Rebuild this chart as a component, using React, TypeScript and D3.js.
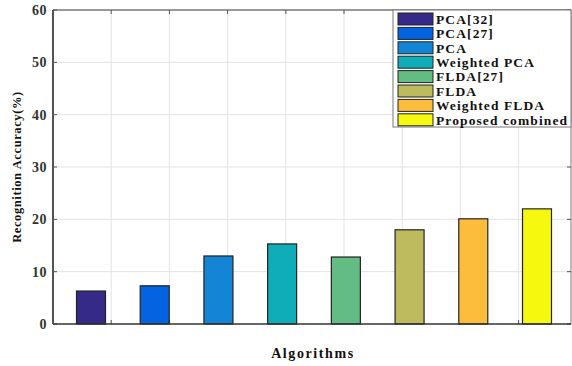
import React from "react";
import * as d3 from "d3";

const algorithms = ["PCA[32]", "PCA[27]", "PCA", "Weighted PCA", "FLDA[27]", "FLDA", "Weighted FLDA", "Proposed combined"];
const accuracy = [6.3, 7.3, 13.0, 15.3, 12.8, 18.0, 20.1, 22.0];
const barColors = ["#352a87", "#0363e1", "#1485d4", "#0fadb8", "#63bc84", "#bdbb5e", "#fdbd3c", "#f6f90d"];
const yTicks = [0, 10, 20, 30, 40, 50, 60];
const xGridTicks = [1, 2, 3, 4, 5, 6, 7, 8];

const W = 572;
const H = 366;
const m = { top: 10, right: 1, bottom: 42, left: 53 };
const font = "'Liberation Serif', 'Times New Roman', serif";

export default function App() {
  const y = d3.scaleLinear().domain([0, 60]).range([H - m.bottom, m.top]);
  const xg = d3.scaleLinear().domain([0, 9]).range([m.left, m.left + 9 * 58.2]);
  const xb = d3.scalePoint<string>().domain(algorithms).range([91, 537]);
  const bw = 29;
  const right = W - m.right;
  const bottom = H - m.bottom;

  return (
    <svg width={W} height={H} style={{ position: "absolute", left: 0, top: 0, background: "#fff" }} fontFamily={font}>
      {/* grid */}
      {yTicks.slice(1, -1).map((t) => (
        <line key={"gy" + t} x1={m.left} x2={right} y1={y(t)} y2={y(t)} stroke="#e3e3e3" strokeWidth={1} />
      ))}
      {xGridTicks.map((t) => (
        <line key={"gx" + t} x1={xg(t)} x2={xg(t)} y1={m.top} y2={bottom} stroke="#e3e3e3" strokeWidth={1} />
      ))}
      {/* box */}
      <line x1={m.left} x2={right} y1={m.top} y2={m.top} stroke="#777" strokeWidth={1.5} />
      <line x1={right} x2={right} y1={m.top} y2={bottom} stroke="#777" strokeWidth={1} />
      {/* box ticks */}
      {xGridTicks.map((t) => (
        <g key={"tx" + t}>
          <line x1={xg(t)} x2={xg(t)} y1={m.top} y2={m.top + 4} stroke="#555" />
          <line x1={xg(t)} x2={xg(t)} y1={bottom} y2={bottom - 4} stroke="#555" />
        </g>
      ))}
      {yTicks.map((t) => (
        <g key={"ty" + t}>
          <line x1={m.left} x2={m.left + 4} y1={y(t)} y2={y(t)} stroke="#555" />
          <line x1={right} x2={right - 4} y1={y(t)} y2={y(t)} stroke="#555" />
          <text x={m.left - 6} y={y(t)} dy="0.35em" textAnchor="end" fontSize={14} fontWeight="bold" fill="#333" letterSpacing={0.5}>
            {t}
          </text>
        </g>
      ))}
      {/* bars */}
      {algorithms.map((a, i) => (
        <rect
          key={a}
          x={(xb(a) as number) - bw / 2}
          y={y(accuracy[i])}
          width={bw}
          height={y(0) - y(accuracy[i])}
          fill={barColors[i]}
          stroke="#222"
          strokeWidth={1.2}
        />
      ))}
      {/* axes */}
      <line x1={m.left} x2={m.left} y1={m.top} y2={bottom} stroke="#555" strokeWidth={2} />
      <line x1={m.left} x2={right} y1={bottom} y2={bottom} stroke="#333" strokeWidth={1.5} />
      {/* labels */}
      <text
        transform={`translate(17,${(m.top + bottom) / 2}) rotate(-90)`}
        textAnchor="middle"
        dy="0.35em"
        fontSize={12.5}
        fontWeight="bold"
        fill="#111"
        letterSpacing={0.6}
      >
        Recognition Accuracy(%)
      </text>
      <text x={313} y={358} textAnchor="middle" fontSize={14} fontWeight="bold" fill="#111" letterSpacing={1.6}>
        Algorithms
      </text>
      {/* legend */}
      <g>
        <rect x={393} y={m.top} width={right - 393} height={117} fill="#fff" stroke="#777" strokeWidth={1} />
        {algorithms.map((a, i) => (
          <g key={"lg" + a} transform={`translate(398,${19 + i * 14.4})`}>
            <rect x={0} y={-6} width={35} height={12} fill={barColors[i]} stroke="#222" strokeWidth={1} />
            <text x={38} y={0} dy="0.35em" fontSize={13.5} fontWeight="bold" fill="#111" letterSpacing={1.1}>
              {a}
            </text>
          </g>
        ))}
      </g>
    </svg>
  );
}
